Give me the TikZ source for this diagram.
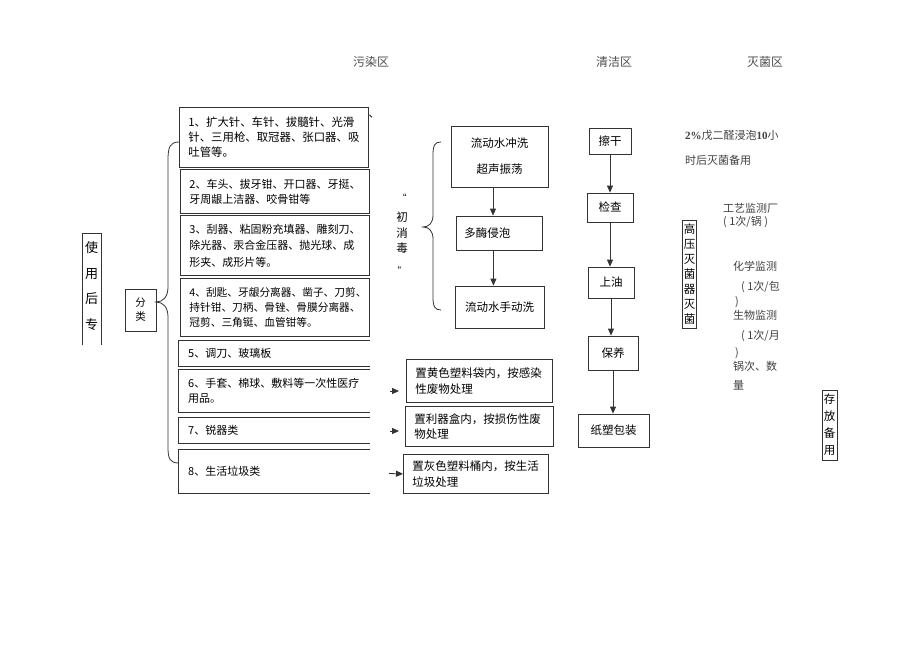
\documentclass[tikz,border=0pt]{standalone}
\usepackage{fontspec}
\setmainfont{Noto Sans CJK SC}
\newfontfamily\latfont{Liberation Serif}
\usetikzlibrary{arrows.meta}

\begin{document}
\begin{tikzpicture}
		[x=1pt,y=-1pt,
		boxline/.style={draw=black!80,line width=0.8pt},
		catbox/.style={boxline,anchor=north west,inner xsep=9pt,inner ysep=0pt,align=left,text width=171pt,font=\fontsize{11}{15}\selectfont},
		openbox/.style={anchor=north west,inner xsep=10pt,inner ysep=0pt,align=left,text width=172pt,font=\fontsize{11}{15}\selectfont},
		flowbox/.style={boxline,inner sep=0pt,align=center,font=\fontsize{11.5}{14}\selectfont},
		wastebox/.style={boxline,anchor=north west,inner xsep=9pt,inner ysep=0pt,align=left,font=\fontsize{11.5}{15.5}\selectfont},
		vbox/.style={boxline,inner xsep=1pt,inner ysep=2pt,align=center,font=\fontsize{11.5}{15}\selectfont},
		note/.style={anchor=west,inner sep=0pt,text=black!75,font=\fontsize{11}{13}\selectfont},
		zone/.style={text=black!70,font=\fontsize{12}{14}\selectfont},
		arr/.style={boxline,-{Triangle[length=7pt,width=6pt]}}]
		\useasboundingbox (0,0) rectangle (920,651);
		\node[zone] (dirty) at (371,62) {污染区};
		\node[zone] (clean) at (614,62) {清洁区};
		\node[zone] (sterile) at (765,62) {灭菌区};
		\node[minimum width=19pt,minimum height=106pt,anchor=north west,inner sep=0pt,align=center,font=\fontsize{13}{25.5}\selectfont] (use) at (82,233) {使\\用\\后\\专};
		\draw[boxline] ([yshift=-6pt]use.south west) |- (use.north east) -- ([yshift=-6pt]use.south east);
		\node[boxline,minimum width=31pt,minimum height=42pt,align=center,inner sep=0pt,font=\fontsize{10.5}{14}\selectfont] (cls) at (140.5,310) {分\\类};
		\node[catbox,minimum height=60pt,font=\fontsize{11.4}{15}\selectfont] (c1) at (179,107) {1、扩大针、车针、拔髓针、光滑\\针、三用枪、取冠器、张口器、吸\\吐管等。};
		\node[inner sep=0pt,font=\fontsize{11}{13}\selectfont] (comma) at (374,117) {、};
		\node[catbox,minimum height=44pt] (c2) at (180,169) {2、车头、拔牙钳、开口器、牙挺、\\牙周龈上洁器、咬骨钳等};
		\node[catbox,minimum height=60pt,font=\fontsize{11}{16.5}\selectfont] (c3) at (180,215) {3、刮器、粘固粉充填器、雕刻刀、\\除光器、汞合金压器、抛光球、成\\形夹、成形片等。};
		\node[catbox,minimum height=58pt,font=\fontsize{10.7}{15}\selectfont] (c4) at (180,278) {4、刮匙、牙龈分离器、凿子、刀剪、\\持针钳、刀柄、骨锉、骨膜分离器、\\冠剪、三角铤、血管钳等。};
		\node[openbox,minimum height=26pt] (c5) at (178,340) {5、调刀、玻璃板};
		\node[openbox,minimum height=43pt] (c6) at (178,369) {6、手套、棉球、敷料等一次性医疗\\用品。};
		\node[openbox,minimum height=26pt] (c7) at (178,417) {7、锐器类};
		\node[openbox,minimum height=44pt] (c8) at (178,449) {8、生活垃圾类};
		\foreach \n in {5,...,8}
			\draw[boxline] (c\n.north east) -| (c\n.south west) -- (c\n.south east);
		\coordinate (btop) at (179,142);
		\coordinate (btip) at (156,302);
		\coordinate (bbot) at (179,463);
		\draw[boxline] (btop) .. controls (170,142) and (168,147) .. (168,160) -- (168,287)
			.. controls (168,297) and (163,302) .. (btip) .. controls (163,302) and (168,307) .. (168,317)
			-- (168,447) .. controls (168,459) and (170,463) .. (bbot);
		\node[align=center,inner sep=0pt,font=\fontsize{11.5}{15.5}\selectfont] (pre) at (402,233) {初\\消\\毒};
		\node[inner sep=0pt,font=\fontsize{9}{9}\selectfont] (qopen) at (402,198) {“};
		\node[inner sep=0pt,font=\fontsize{9}{9}\selectfont] (qclose) at (402,271) {”};
		\coordinate (mtop) at (441,142);
		\coordinate (mtip) at (423,227);
		\coordinate (mbot) at (441,310);
		\draw[boxline] (mtop) .. controls (435,142) and (433,145) .. (433,155) -- (433,215)
			.. controls (433,223) and (429,227) .. (mtip) .. controls (429,227) and (433,231) .. (433,239)
			-- (433,297) .. controls (433,307) and (435,310) .. (mbot);
		\node[flowbox,minimum width=97pt,minimum height=61pt,font=\fontsize{11.5}{26}\selectfont] (rinse) at (499.5,156.5) {流动水冲洗\\超声振荡};
		\node[flowbox,anchor=west,align=left,text width=70pt,inner xsep=8pt,minimum height=34pt] (soak) at (456,233) {多酶侵泡};
		\node[flowbox,minimum width=89pt,minimum height=42pt] (handwash) at (499.5,307) {流动水手动洗};
		\draw[arr] ([xshift=-6.5pt]rinse.south) -- ([xshift=-6.5pt]rinse.south |- soak.north);
		\draw[arr] ([xshift=-6pt]soak.south) -- ([xshift=-6pt]soak.south |- handwash.north);
		\node[wastebox,minimum height=43pt,text width=128pt] (yellow) at (406,359) {置黄色塑料袋内，按感染\\性废物处理};
		\node[wastebox,minimum height=40pt,text width=130pt] (sharp) at (405,406) {置利器盒内，按损伤性废\\物处理};
		\node[wastebox,minimum height=39pt,text width=127pt,font=\fontsize{11.5}{16}\selectfont] (grey) at (403,454) {置灰色塑料桶内，按生活\\垃圾处理};
		\coordinate (w6) at (390,391);
		\coordinate (w6e) at (399,391);
		\coordinate (w7) at (390,431);
		\coordinate (w7e) at (399,431);
		\coordinate (w8) at (389,473.5);
		\draw[arr] (w6) -- (w6e);
		\draw[arr] (w7) -- (w7e);
		\draw[arr] (w8) -- (grey.west);
		\node[flowbox,minimum width=42pt,minimum height=26pt] (dry) at (610,141) {擦干};
		\node[flowbox,minimum width=46pt,minimum height=29pt] (check) at (610,207.5) {检查};
		\node[flowbox,minimum width=46pt,minimum height=31pt] (oil) at (611,282.5) {上油};
		\node[flowbox,minimum width=50pt,minimum height=34pt] (care) at (613,353) {保养};
		\node[flowbox,minimum width=71pt,minimum height=33pt] (pack) at (613.5,430.5) {纸塑包装};
		\foreach \a/\b in {dry/check,check/oil,oil/care,care/pack}
			\draw[arr] (\a.south) -- (\a.south |- \b.north);
		\node[note] (glut1) at (685,135) {{\latfont\bfseries 2\%}戊二醛浸泡{\latfont\bfseries 10}小};
		\node[note] (glut2) at (685,160) {时后灭菌备用};
		\node[vbox,minimum width=13pt,minimum height=108pt] (auto) at (689.5,274) {高\\压\\灭\\菌\\器\\灭\\菌};
		\node[note] (mon1) at (723,208) {工艺监测厂};
		\node[note] (mon1b) at (723,222) {( 1次/锅 )};
		\node[note] (mon2) at (733,266) {化学监测};
		\node[note] (mon2b) at (741,287) {( 1次/包};
		\node[note] (mon2c) at (735,302) {)};
		\node[note] (mon3) at (733,315) {生物监测};
		\node[note] (mon3b) at (741,336) {( 1次/月};
		\node[note] (mon3c) at (735,353) {)};
		\node[note] (mon4) at (733,366) {锅次、数};
		\node[note] (mon4b) at (733,385) {量};
		\node[vbox,minimum width=15pt,minimum height=70pt,font=\fontsize{11.5}{17}\selectfont] (store) at (829.5,425) {存\\放\\备\\用};
	\end{tikzpicture}
\end{document}
